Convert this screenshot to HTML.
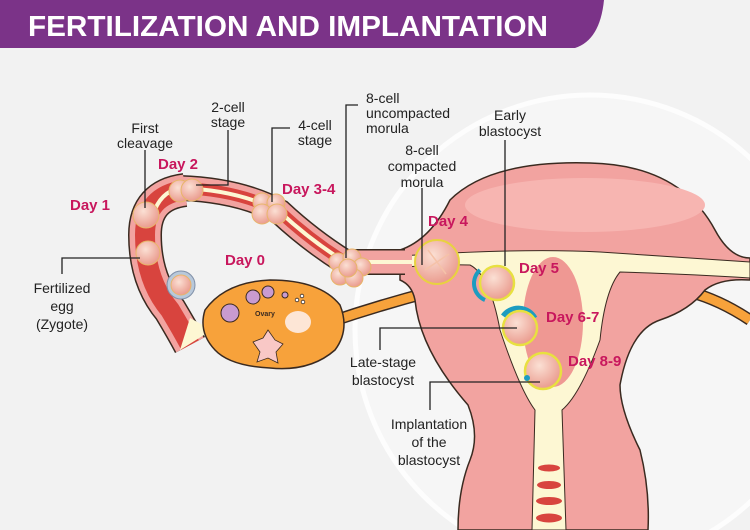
<!DOCTYPE html>
<html><head><meta charset="utf-8"><style>
html,body{margin:0;padding:0;background:#f2f2f2;width:750px;height:530px;overflow:hidden;}
svg{display:block;overflow:hidden;}
.t{font-family:"Liberation Sans",sans-serif;font-size:14px;fill:#222;text-anchor:middle;}
.d{font-family:"Liberation Sans",sans-serif;font-size:15px;font-weight:bold;fill:#c8175d;}
.l{stroke:#222;stroke-width:1.3;fill:none;}
</style></head><body>
<svg width="750" height="530" viewBox="0 0 750 530" xmlns="http://www.w3.org/2000/svg">
<defs>
<radialGradient id="cell" cx="0.4" cy="0.35" r="0.7"><stop offset="0" stop-color="#fbe0d4"/><stop offset="1" stop-color="#e9978a"/></radialGradient>
<clipPath id="cp"><rect width="750" height="530"/></clipPath>
</defs>
<g clip-path="url(#cp)">
<rect width="750" height="530" fill="#f2f2f2"/>
<circle cx="590" cy="330" r="235" fill="#f6f6f6" stroke="#fdfdfd" stroke-width="5"/>
<!-- header -->
<path d="M0 0 H604 Q600 40 575 48 H0 Z" fill="#7b3388"/>
<text x="28" y="36" font-family="Liberation Sans,sans-serif" font-weight="bold" font-size="29" fill="#fff" textLength="520" lengthAdjust="spacingAndGlyphs">FERTILIZATION AND IMPLANTATION</text>

<!-- orange ligaments -->
<path d="M330 322 Q380 305 430 292" stroke="#3a2a20" stroke-width="12" fill="none"/>
<path d="M330 322 Q380 305 430 292" stroke="#f7a23b" stroke-width="9" fill="none"/>
<path d="M690 292 Q720 300 750 320" stroke="#3a2a20" stroke-width="12" fill="none"/>
<path d="M690 292 Q720 300 750 320" stroke="#f7a23b" stroke-width="9" fill="none"/>

<!-- uterus -->
<path d="M400 250 Q430 240 450 200 Q490 160 590 163 Q680 165 715 230 Q730 258 750 258 V280 Q720 278 705 290 Q690 310 660 320 Q630 330 620 385 Q620 410 640 450 Q650 490 648 530 H458 Q458 490 470 460 Q480 435 468 405 Q420 350 415 300 Q412 285 400 280 Z" fill="#f2a3a0" stroke="#3a2a20" stroke-width="1.5"/>
<ellipse cx="585" cy="205" rx="120" ry="27" fill="#f7b5b1"/>
<!-- cavity -->
<path d="M400 256 Q520 248 600 252 Q690 258 750 262 V278 Q690 274 620 272 Q605 290 600 340 Q580 395 562 410 L566 530 H532 L535 410 Q520 390 500 330 Q490 275 470 265 Q430 264 400 268 Z" fill="#fdf7d3" stroke="#3a2a20" stroke-width="1"/>
<ellipse cx="553" cy="322" rx="30" ry="65" fill="#ef9893"/>
<g fill="#d8443e"><ellipse cx="549" cy="468" rx="11" ry="3.5"/><ellipse cx="549" cy="485" rx="12" ry="4"/><ellipse cx="549" cy="501" rx="13" ry="4"/><ellipse cx="549" cy="518" rx="13" ry="4.5"/></g>

<!-- left tube -->
<path d="M405 262 L345 262 Q310 240 280 212 Q240 190 180 188 Q145 195 145 235 Q145 280 170 310 Q182 330 190 345" stroke="#3a2a20" stroke-width="26" fill="none"/>
<path d="M185 190 Q145 195 145 235 Q145 280 170 310 Q182 330 190 345" stroke="#3a2a20" stroke-width="34" fill="none"/>
<path d="M412 262 L345 262 Q310 240 280 212 Q240 190 180 188 Q145 195 145 235 Q145 280 170 310 Q182 330 190 345" stroke="#f2a3a0" stroke-width="23" fill="none"/>
<path d="M185 190 Q145 195 145 235 Q145 280 170 310 Q182 330 190 345" stroke="#f2a3a0" stroke-width="31" fill="none"/>
<path d="M345 262 Q310 240 280 212 Q240 190 180 188 Q145 195 145 235 Q145 280 170 310 Q182 330 190 345" stroke="#d8443e" stroke-width="12" fill="none"/>
<path d="M185 190 Q145 195 145 235 Q145 280 170 310 Q182 330 190 345" stroke="#d8443e" stroke-width="20" fill="none"/>
<path d="M412 262 L345 262 Q310 240 280 212 Q240 190 180 188 Q160 192 153 215" stroke="#fdf7d3" stroke-width="4" fill="none"/>
<path d="M180 350 L190 318 L212 330 Z" fill="#fdf7d3"/>
<!-- ovary -->
<path d="M205 310 Q225 282 270 280 Q320 280 340 305 Q350 330 335 350 Q310 372 270 368 Q230 366 215 350 Q198 332 205 310 Z" fill="#f7a23b" stroke="#3a2a20" stroke-width="1.5"/>
<g fill="#c99bd0" stroke="#3a2a20" stroke-width="1"><circle cx="230" cy="313" r="9"/><circle cx="253" cy="297" r="7"/><circle cx="268" cy="292" r="6"/><circle cx="285" cy="295" r="3"/></g>
<g fill="#fff" stroke="#3a2a20" stroke-width="0.8"><circle cx="297" cy="300" r="1.8"/><circle cx="302" cy="296" r="1.8"/><circle cx="303" cy="302" r="1.8"/></g>
<ellipse cx="298" cy="322" rx="13" ry="11" fill="#fde6d6"/>
<path d="M253 342 L263 338 L268 330 L275 340 L283 344 L276 352 L278 363 L268 358 L257 362 L260 352 Z" fill="#f9c8c6" stroke="#3a2a20" stroke-width="0.8"/>
<text x="255" y="316" font-family="Liberation Sans,sans-serif" font-size="7" font-weight="bold" fill="#3a2a20">Ovary</text>

<!-- cells -->
<g stroke="#e8b66a" stroke-width="1">
<circle cx="146" cy="215" r="13" fill="url(#cell)"/>
<circle cx="148" cy="253" r="12" fill="url(#cell)"/>
<circle cx="181" cy="285" r="14" fill="#b8c8da" stroke="#8090a8"/>
<circle cx="181" cy="285" r="10" fill="url(#cell)"/>
<circle cx="180" cy="191" r="11" fill="url(#cell)"/>
<circle cx="192" cy="190" r="11" fill="url(#cell)"/>
<circle cx="262" cy="202" r="9" fill="url(#cell)"/><circle cx="276" cy="203" r="9" fill="url(#cell)"/>
<circle cx="262" cy="214" r="10" fill="url(#cell)"/><circle cx="277" cy="214" r="10" fill="url(#cell)"/>
<circle cx="338" cy="262" r="9" fill="url(#cell)"/><circle cx="352" cy="258" r="9" fill="url(#cell)"/><circle cx="362" cy="267" r="9" fill="url(#cell)"/>
<circle cx="340" cy="276" r="9" fill="url(#cell)"/><circle cx="354" cy="278" r="9" fill="url(#cell)"/><circle cx="348" cy="268" r="9" fill="url(#cell)"/>
</g>
<circle cx="437" cy="262" r="22" fill="url(#cell)" stroke="#e8d240" stroke-width="2"/>
<path d="M437 262 L428 250 M437 262 L449 254 M437 262 L446 274 M437 262 L425 270" stroke="#f5c2a8" stroke-width="1.5"/>
<path d="M480 270 A18 18 0 0 0 485 300" stroke="#1c9cc0" stroke-width="4" fill="none"/>
<circle cx="497" cy="283" r="17" fill="url(#cell)" stroke="#e8e040" stroke-width="2.5"/>
<path d="M503 316 A19 19 0 0 1 535 318" stroke="#1c9cc0" stroke-width="5" fill="none"/>
<circle cx="520" cy="328" r="17" fill="url(#cell)" stroke="#e8e040" stroke-width="2.5"/>
<circle cx="543" cy="371" r="18" fill="url(#cell)" stroke="#e8e040" stroke-width="2.5"/>
<circle cx="527" cy="378" r="3" fill="#1c9cc0"/>

<!-- leaders -->
<path class="l" d="M145 150 V208"/>
<path class="l" d="M228 130 V185 H196"/>
<path class="l" d="M290 128 H272 V202"/>
<path class="l" d="M358 105 H346 V258"/>
<path class="l" d="M422 188 V265"/>
<path class="l" d="M505 140 V266"/>
<path class="l" d="M62 274 V258 H140"/>
<path class="l" d="M380 350 V328 H517"/>
<path class="l" d="M430 410 V382 H540"/>

<!-- labels -->
<text class="t" x="145" y="133">First</text><text class="t" x="145" y="148">cleavage</text>
<text class="t" x="228" y="112">2-cell</text><text class="t" x="228" y="127">stage</text>
<text class="t" x="315" y="130">4-cell</text><text class="t" x="315" y="145">stage</text>
<text class="t" x="366" y="103" style="text-anchor:start">8-cell</text>
<text class="t" x="366" y="118" style="text-anchor:start">uncompacted</text>
<text class="t" x="366" y="133" style="text-anchor:start">morula</text>
<text class="t" x="510" y="120">Early</text><text class="t" x="510" y="136">blastocyst</text>
<text class="t" x="422" y="155">8-cell</text><text class="t" x="422" y="171">compacted</text><text class="t" x="422" y="187">morula</text>
<text class="t" x="62" y="293">Fertilized</text><text class="t" x="62" y="311">egg</text><text class="t" x="62" y="329">(Zygote)</text>
<text class="t" x="383" y="367">Late-stage</text><text class="t" x="383" y="385">blastocyst</text>
<text class="t" x="429" y="429">Implantation</text><text class="t" x="429" y="447">of the</text><text class="t" x="429" y="465">blastocyst</text>

<text class="d" x="70" y="210">Day 1</text>
<text class="d" x="158" y="169">Day 2</text>
<text class="d" x="282" y="194">Day 3-4</text>
<text class="d" x="225" y="265">Day 0</text>
<text class="d" x="428" y="226">Day 4</text>
<text class="d" x="519" y="273">Day 5</text>
<text class="d" x="546" y="322">Day 6-7</text>
<text class="d" x="568" y="366">Day 8-9</text>
</g>
</svg>
</body></html>
